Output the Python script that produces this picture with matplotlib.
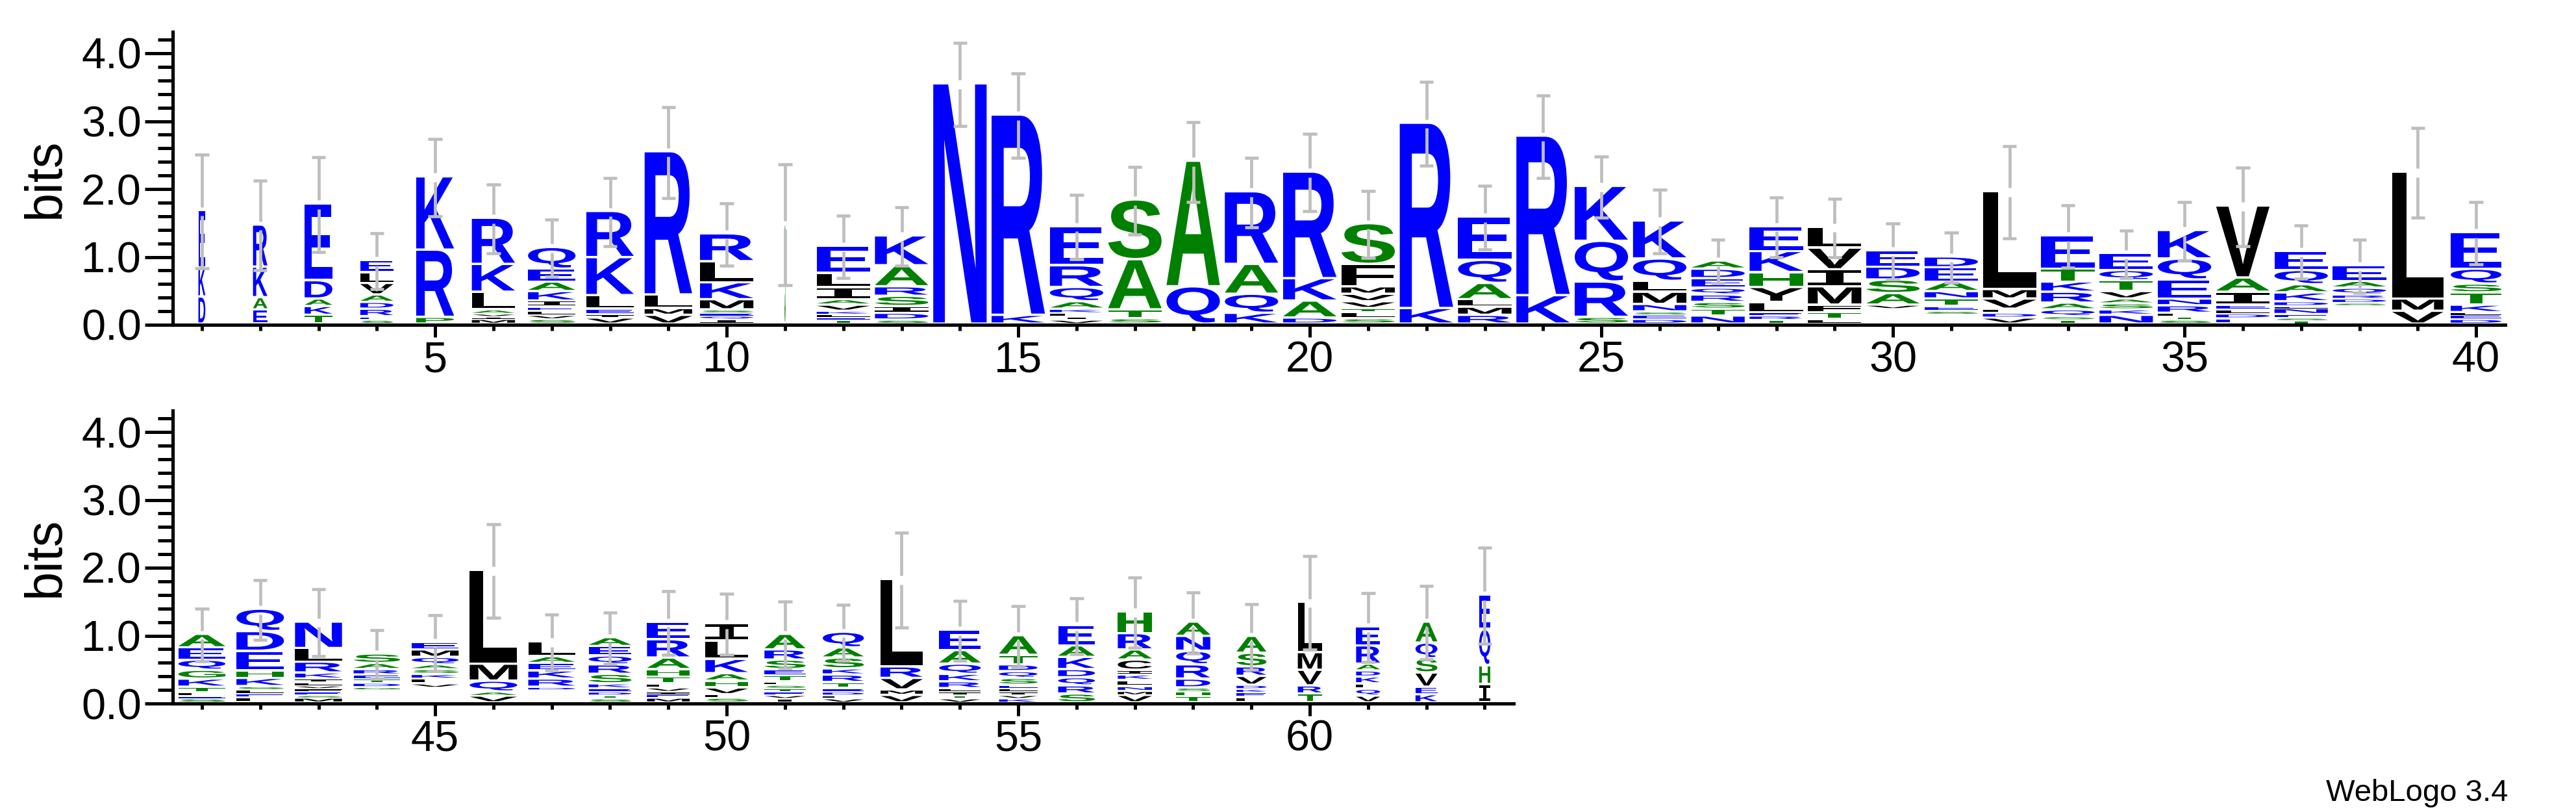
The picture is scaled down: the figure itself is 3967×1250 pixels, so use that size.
import matplotlib
matplotlib.use('Agg')
import matplotlib.pyplot as plt
from matplotlib.textpath import TextPath
from matplotlib.patches import PathPatch
from matplotlib.font_manager import FontProperties
from matplotlib.transforms import Affine2D

plt.rcParams['font.family'] = ['Liberation Sans', 'DejaVu Sans']

# letters of each stack, top letter first ('-' = empty space at the stack bottom)
top_letters = ["EKD", "RKAE", "EDAKT", "ELVADRES", "KRP", "RKLAVIM", "QEAKIELVS", "RKLEIV",
               "RLMV", "RLKMSEQI", "S", "ELIAVKLET", "KARSIDS", "N", "RK", "ERQAKLIV",
               "SATS", "AQ", "RAQK", "RKAD", "SFMVVTLS", "RK", "EQALMR", "RK", "KQRS",
               "KQLMNSED", "ADEQRSTN", "EKHYLERT", "LVIMFTL", "EDSAV-", "DEANTES-",
               "LMVLDV", "ETKRAQST", "EQTVASKN", "KQENRLTS", "VAIELDE", "EQAKDLNEST",
               "EAQRDS-", "LMV", "EQSTKLED"]
top_heights = [[0.84, 0.43, 0.40], [0.62, 0.45, 0.18, 0.21], [1.13, 0.27, 0.11, 0.13, 0.13],
               [0.18, 0.16, 0.17, 0.11, 0.10, 0.11, 0.05, 0.06], [1.08, 0.99, 0.10],
               [0.68, 0.41, 0.26, 0.06, 0.04, 0.04, 0.07],
               [0.32, 0.19, 0.14, 0.14, 0.09, 0.06, 0.06, 0.06, 0.07],
               [0.68, 0.56, 0.20, 0.08, 0.05, 0.09], [2.11, 0.20, 0.10, 0.13],
               [0.41, 0.31, 0.25, 0.15, 0.05, 0.04, 0.05, 0.07], [1.47],
               [0.40, 0.21, 0.18, 0.08, 0.09, 0.05, 0.04, 0.04, 0.06],
               [0.44, 0.31, 0.14, 0.15, 0.10, 0.10, 0.06], [3.54], [2.95, 0.13],
               [0.58, 0.32, 0.21, 0.11, 0.06, 0.05, 0.05, 0.06], [0.88, 0.74, 0.13, 0.08],
               [1.85, 0.55], [1.07, 0.44, 0.28, 0.16], [1.57, 0.33, 0.25, 0.09],
               [0.60, 0.33, 0.11, 0.11, 0.10, 0.06, 0.09, 0.08], [2.73, 0.23],
               [0.64, 0.34, 0.24, 0.11, 0.12, 0.13], [2.35, 0.42], [0.81, 0.60, 0.52, 0.10],
               [0.56, 0.33, 0.16, 0.18, 0.11, 0.05, 0.06, 0.07],
               [0.12, 0.14, 0.14, 0.10, 0.11, 0.10, 0.10, 0.12],
               [0.37, 0.31, 0.22, 0.22, 0.15, 0.05, 0.06, 0.06],
               [0.31, 0.32, 0.25, 0.27, 0.11, 0.10, 0.07], [0.24, 0.19, 0.20, 0.17, 0.06, 0.22],
               [0.16, 0.21, 0.14, 0.11, 0.11, 0.07, 0.05, 0.14],
               [1.44, 0.14, 0.15, 0.06, 0.07, 0.09],
               [0.49, 0.19, 0.15, 0.16, 0.10, 0.10, 0.05, 0.06],
               [0.25, 0.15, 0.16, 0.11, 0.07, 0.09, 0.08, 0.13],
               [0.42, 0.31, 0.28, 0.10, 0.11, 0.05, 0.05, 0.06],
               [1.06, 0.21, 0.19, 0.07, 0.06, 0.07, 0.08],
               [0.28, 0.21, 0.12, 0.13, 0.07, 0.03, 0.09, 0.05, 0.04, 0.05],
               [0.23, 0.10, 0.10, 0.06, 0.06, 0.04, 0.27], [1.87, 0.18, 0.19],
               [0.54, 0.22, 0.13, 0.18, 0.11, 0.04, 0.06, 0.07]]
top_errors = [0.84, 0.66, 0.70, 0.41, 0.57, 0.51, 0.42, 0.50, 0.67, 0.46, 0.89, 0.46, 0.43,
              0.61, 0.62, 0.47, 0.50, 0.59, 0.51, 0.57, 0.49, 0.62, 0.47, 0.61, 0.45, 0.47,
              0.32, 0.44, 0.43, 0.41, 0.37, 0.68, 0.46, 0.35, 0.43, 0.58, 0.39, 0.39, 0.66, 0.46]
top_widths = [0.13, 0.27, 0.52, 0.62, 0.71, 0.81, 0.89, 0.89, 0.89, 1.0, 0.02] + [1.0] * 27 + [0.96, 0.95]

bottom_letters = ["AEQGKTLES", "QDEHKSLEL", "NLRKILVFESM", "SARETDG-", "EMQASKLV-", "LMQAV",
                  "LAEKRD-", "AEQRSKEDTS", "ERAHTLVIEM", "ILKAHVLS", "ARSETLSTEVI",
                  "QASKRTEDLV", "LRVMV", "EAQKRLITV", "ATDQSELIVK", "EAKDQRS", "HRACIKLNMV",
                  "ANQRDSHT", "ASRVDKEL", "LMVRT", "ERADKLQV", "AQSVEK", "EQHI"]
bottom_heights = [[0.20, 0.18, 0.15, 0.13, 0.12, 0.08, 0.05, 0.04, 0.06],
                  [0.33, 0.29, 0.29, 0.11, 0.12, 0.05, 0.06, 0.05, 0.08],
                  [0.39, 0.20, 0.16, 0.09, 0.05, 0.05, 0.04, 0.05, 0.05, 0.04, 0.07],
                  [0.14, 0.09, 0.08, 0.06, 0.06, 0.06, 0.04, 0.19],
                  [0.11, 0.11, 0.11, 0.07, 0.07, 0.07, 0.07, 0.06, 0.22],
                  [1.38, 0.25, 0.16, 0.06, 0.10],
                  [0.22, 0.10, 0.11, 0.12, 0.12, 0.04, 0.19],
                  [0.13, 0.14, 0.13, 0.14, 0.14, 0.07, 0.05, 0.05, 0.05, 0.06],
                  [0.26, 0.27, 0.17, 0.11, 0.10, 0.06, 0.06, 0.04, 0.05, 0.07],
                  [0.26, 0.27, 0.21, 0.11, 0.10, 0.10, 0.05, 0.07],
                  [0.23, 0.15, 0.14, 0.09, 0.09, 0.05, 0.05, 0.05, 0.05, 0.05, 0.06],
                  [0.23, 0.15, 0.16, 0.09, 0.11, 0.09, 0.05, 0.05, 0.05, 0.06],
                  [1.29, 0.17, 0.17, 0.08, 0.11],
                  [0.30, 0.20, 0.15, 0.11, 0.10, 0.05, 0.05, 0.05, 0.06],
                  [0.29, 0.14, 0.10, 0.10, 0.10, 0.05, 0.05, 0.05, 0.05, 0.06],
                  [0.30, 0.17, 0.18, 0.12, 0.12, 0.12, 0.13],
                  [0.32, 0.24, 0.15, 0.15, 0.07, 0.08, 0.09, 0.07, 0.06, 0.11],
                  [0.21, 0.22, 0.20, 0.21, 0.13, 0.06, 0.06, 0.10],
                  [0.25, 0.20, 0.14, 0.13, 0.06, 0.05, 0.07, 0.08],
                  [0.74, 0.26, 0.23, 0.12, 0.13],
                  [0.28, 0.27, 0.10, 0.09, 0.10, 0.08, 0.10, 0.10],
                  [0.31, 0.23, 0.21, 0.21, 0.11, 0.12],
                  [0.51, 0.53, 0.28, 0.27]]
bottom_errors = [0.39, 0.44, 0.49, 0.36, 0.41, 0.69, 0.41, 0.38, 0.47, 0.45, 0.49, 0.41, 0.70,
                 0.44, 0.45, 0.41, 0.52, 0.45, 0.48, 0.69, 0.51, 0.54, 0.71]
bottom_widths = [0.88, 0.89, 0.88, 0.87, 0.88, 0.89, 0.88, 0.80, 0.80, 0.80, 0.77, 0.77, 0.79,
                 0.78, 0.72, 0.69, 0.64, 0.64, 0.56, 0.45, 0.45, 0.41, 0.21]

# hydrophobicity colour scheme
colors = {}
for c in "RKDENQ":
    colors[c] = '#0000ff'
for c in "SGHTAP":
    colors[c] = '#008000'
for c in "YVMCLFIW":
    colors[c] = '#000000'

W, H = 3967, 1250
YMAX = 4.32
bit_px = 104.5
pos_px = 89.8
left_px = 266

fp_letter = FontProperties(family='Liberation Sans', weight='bold')
fp_i = FontProperties(family='DejaVu Sans Mono', weight='bold')
glyphs = {}


def glyph(ch):
    if ch not in glyphs:
        p = TextPath((0, 0), ch, size=1, prop=fp_i if ch == 'I' else fp_letter)
        glyphs[ch] = (p, p.get_extents())
    return glyphs[ch]


def draw_row(ax, first, letters, heights, errors, widths):
    for i in range(len(letters)):
        x = first + i
        w = 0.915 * widths[i]
        y = 0.0
        for ch, h in zip(letters[i][::-1], heights[i][::-1]):
            if ch != '-':
                g = min(0.035, 0.45 * h)
                p, bb = glyph(ch)
                tr = (Affine2D().translate(-bb.x0, -bb.y0)
                      .scale(w / bb.width, (h - g) / bb.height)
                      .translate(x - w / 2, y + g))
                ax.add_patch(PathPatch(tr.transform_path(p), facecolor=colors[ch],
                                       edgecolor='none', lw=0))
            y += h
        e = errors[i]
        gap = 0.065
        ax.plot([x, x], [y + gap, y + e], color='#bebebe', lw=3.4, solid_capstyle='butt')
        ax.plot([x, x], [y - e, y - gap], color='#bebebe', lw=3.4, solid_capstyle='butt')
        for yy in (y + e, y - e):
            ax.plot([x - 0.12, x + 0.12], [yy, yy], color='#bebebe', lw=3.4,
                    solid_capstyle='butt')


def make_axes(y0_px, first, n):
    ax = fig.add_axes([left_px / W, (H - y0_px) / H, n * pos_px / W, YMAX * bit_px / H])
    ax.set_xlim(first - 0.5, first + n - 0.5)
    ax.set_ylim(0, YMAX)
    for s in ('top', 'right'):
        ax.spines[s].set_visible(False)
    for s in ('left', 'bottom'):
        ax.spines[s].set_linewidth(3.7)
    ax.set_xticks([v for v in range(first, first + n) if v % 5 == 0])
    ax.set_xticks(list(range(first, first + n)), minor=True)
    ax.set_yticks([0, 1, 2, 3, 4])
    ax.set_yticklabels(['0.0', '1.0', '2.0', '3.0', '4.0'])
    ax.set_yticks([k * 0.2 for k in range(22)], minor=True)
    ax.tick_params(axis='x', which='major', length=13.7, width=3.6, labelsize=48, pad=4)
    ax.tick_params(axis='x', which='minor', length=6.5, width=3.6)
    ax.tick_params(axis='y', which='major', length=31, width=3.6, labelsize=48, pad=3.6)
    ax.tick_params(axis='y', which='minor', length=16.5, width=3.6)
    fig.text(70 / W, 1 - (y0_px - YMAX * bit_px / 2) / H, 'bits', rotation=90,
             ha='center', va='center', fontsize=57)
    return ax


fig = plt.figure(figsize=(W / 100, H / 100), dpi=100)

ax1 = make_axes(500, 1, 40)
draw_row(ax1, 1, top_letters, top_heights, top_errors, top_widths)

ax2 = make_axes(1083, 41, 23)
draw_row(ax2, 41, bottom_letters, bottom_heights, bottom_errors, bottom_widths)

fig.text(3862 / W, 1 - 1233 / H, 'WebLogo 3.4', ha='right', va='baseline', fontsize=34)

fig.savefig('out.png', dpi=100)
